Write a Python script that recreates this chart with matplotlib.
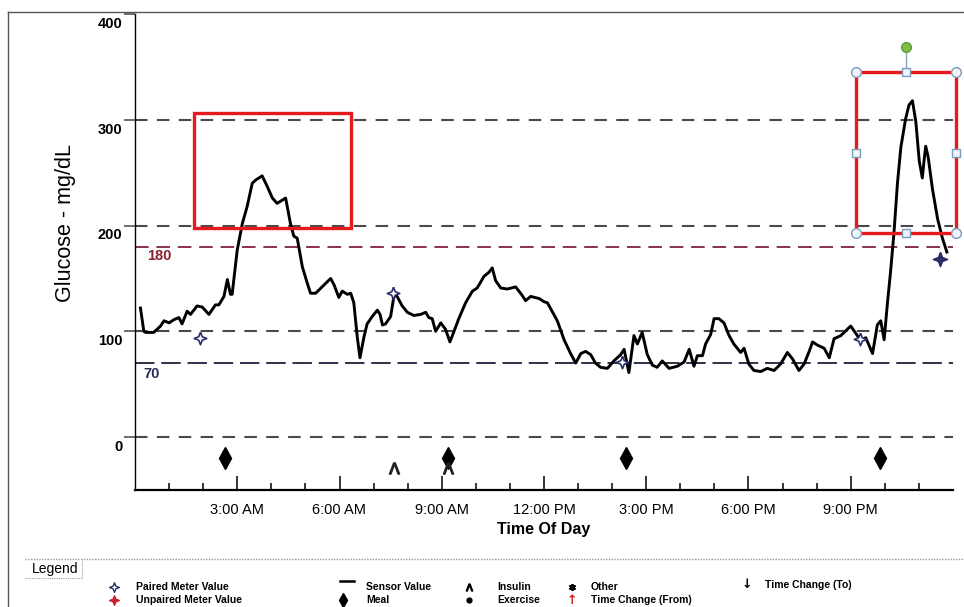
import matplotlib
matplotlib.use("Agg")
import matplotlib.pyplot as plt
import matplotlib.transforms as mtransforms
from matplotlib import font_manager
from matplotlib.lines import Line2D
from matplotlib.patches import Rectangle

# ---- data ----
# sensor trace: hours after midnight, glucose in mg/dL
sensor_hours = [0.16, 0.26, 0.31, 0.55, 0.75, 0.85, 1.00, 1.14, 1.29, 1.38, 1.53, 1.63,
                1.82, 1.97, 2.17, 2.36, 2.46, 2.61, 2.71, 2.80, 2.85, 3.00, 3.15, 3.29,
                3.44, 3.54, 3.73, 3.88, 4.03, 4.17, 4.32, 4.42, 4.56, 4.66, 4.76, 4.91,
                5.05, 5.15, 5.30, 5.49, 5.74, 5.84, 5.98, 6.08, 6.23, 6.33, 6.42, 6.52,
                6.60, 6.72, 6.81, 6.96, 7.11, 7.19, 7.26, 7.35, 7.50, 7.60, 7.69, 7.84,
                7.99, 8.18, 8.38, 8.53, 8.62, 8.72, 8.82, 8.97, 9.11, 9.24, 9.36, 9.50,
                9.70, 9.90, 10.04, 10.24, 10.39, 10.48, 10.58, 10.73, 10.92, 11.17, 11.36,
                11.46, 11.61, 11.86, 12.00, 12.10, 12.39, 12.59, 12.78, 12.93, 13.08,
                13.22, 13.37, 13.51, 13.66, 13.86, 14.05, 14.25, 14.35, 14.49, 14.64,
                14.74, 14.88, 15.03, 15.18, 15.32, 15.47, 15.67, 15.91, 16.11, 16.26,
                16.40, 16.50, 16.65, 16.74, 16.89, 16.99, 17.13, 17.28, 17.43, 17.57,
                17.77, 17.87, 18.01, 18.16, 18.36, 18.55, 18.75, 18.94, 19.14, 19.29,
                19.48, 19.63, 19.78, 19.88, 20.02, 20.22, 20.37, 20.51, 20.71, 20.90,
                21.00, 21.15, 21.30, 21.44, 21.64, 21.78, 21.88, 21.98, 22.08, 22.17,
                22.27, 22.37, 22.47, 22.61, 22.71, 22.81, 22.91, 23.01, 23.10, 23.15,
                23.20, 23.27, 23.40, 23.55, 23.69, 23.82]
sensor_values = [122, 100, 99, 99, 105, 110, 108, 111, 113, 107, 119, 116,
                 124, 123, 116, 125, 125, 133, 149, 135, 135, 177, 202, 218,
                 240, 243, 247, 237, 226, 221, 224, 226, 202, 190, 188, 161,
                 146, 136, 136, 142, 150, 144, 132, 138, 135, 136, 127, 95,
                 75, 95, 107, 114, 120, 116, 106, 107, 114, 134, 133, 124,
                 118, 115, 116, 118, 113, 112, 100, 108, 102, 90, 100, 112,
                 127, 138, 141, 152, 156, 160, 148, 141, 140, 142, 134,
                 129, 133, 131, 128, 127, 110, 92, 79, 70, 79,
                 81, 78, 70, 66, 65, 72, 78, 83, 61, 96,
                 88, 99, 78, 68, 66, 72, 65, 67, 71, 83,
                 67, 77, 77, 88, 97, 112, 112, 108, 96, 88,
                 80, 84, 69, 63, 62, 65, 63, 69, 80, 74,
                 63, 69, 81, 90, 87, 84, 75, 93, 96, 102,
                 105, 98, 91, 94, 79, 106, 110, 92, 128, 157,
                 194, 240, 274, 301, 314, 318, 298, 261, 245, 261,
                 275, 265, 234, 206, 188, 175]

meter_hours = [1.92, 7.57, 14.30, 21.27, 23.62]
meter_values = [94, 136, 71, 93, 168]

meal_hours = [2.64, 9.19, 14.41, 21.86]
meal_level = -20
insulin_hours = [7.60, 9.19]
insulin_level = -29

grid_levels = [0, 100, 200, 300]
low_limit = 70
high_limit = 180

y_ticks = [0, 100, 200, 300, 400]
hour_ticks = list(range(1, 24))
label_hours = [3, 6, 9, 12, 15, 18, 21]
label_texts = ["3:00 AM", "6:00 AM", "9:00 AM", "12:00 PM", "3:00 PM", "6:00 PM", "9:00 PM"]

# red highlight boxes (x0, y0, x1, y1) in hours / mg/dL
highlight_boxes = [(1.72, 198, 6.35, 306), (21.15, 193, 24.08, 345)]

# ---- fonts ----
names = {f.name for f in font_manager.fontManager.ttflist}
NARROW = "Liberation Sans Narrow" if "Liberation Sans Narrow" in names else "Liberation Sans"
REG = "Liberation Sans"

W, H = 964, 607
fig = plt.figure(figsize=(W / 100, H / 100), dpi=100)
fig.patch.set_facecolor("white")


def fx(x):
    return x / W


def fy(y):
    return 1 - y / H


ax = fig.add_axes([fx(135), fy(490), (953 - 135) / W, 476 / H])
ax.set_xlim(0, 24)
ax.set_ylim(-50, 400)
ax.set_facecolor("none")

for s in ["top", "right"]:
    ax.spines[s].set_visible(False)
ax.spines["left"].set_linewidth(1.0)
ax.spines["bottom"].set_linewidth(1.6)

# reference lines
for lv in grid_levels:
    ax.axhline(lv, color="#4a4a4a", lw=1.5, ls=(0, (6, 4.5)), zorder=1)
ax.axhline(high_limit, color="#8a3050", lw=1.4, ls=(0, (7, 4)), zorder=1)
ax.axhline(low_limit, color="#30304a", lw=1.4, ls=(0, (10, 3.5)), zorder=1)
ax.text(0.35, high_limit - 2, str(high_limit), color="#8a2030", fontsize=10.5,
        fontweight="bold", family=NARROW, va="top", ha="left")
ax.text(0.25, low_limit - 4, str(low_limit), color="#2a2a55", fontsize=10.5,
        fontweight="bold", family=NARROW, va="top", ha="left")

# sensor curve
ax.plot(sensor_hours, sensor_values, color="black", lw=2.1, zorder=4,
        solid_joinstyle="round")

# paired meter values (open 4-point star)
star = [(0, 1), (0.28, 0.28), (1, 0), (0.28, -0.28), (0, -1), (-0.28, -0.28),
        (-1, 0), (-0.28, 0.28), (0, 1)]
ax.plot(meter_hours[:-1], meter_values[:-1], ls="none", marker=star, ms=9,
        mfc="white", mec="#2a2f6a", mew=1.2, zorder=5)
ax.plot(meter_hours[-1:], meter_values[-1:], ls="none", marker=star, ms=10,
        mfc="#2a2f6a", mec="#2a2f6a", mew=1.2, zorder=5)

# meals and insulin
ax.plot(meal_hours, [meal_level] * len(meal_hours), ls="none", marker="d",
        ms=11, color="black", zorder=5)
ax.plot(insulin_hours, [insulin_level] * len(insulin_hours), ls="none",
        marker=r"$\Lambda$", ms=8, color="#222222", zorder=5)

# highlight boxes with selection handles on the second one
for x0, y0, x1, y1 in highlight_boxes:
    ax.add_patch(Rectangle((x0, y0), x1 - x0, y1 - y0, fill=False, ec="#e5191e",
                           lw=2.4, zorder=6, clip_on=False))
x0, y0, x1, y1 = highlight_boxes[1]
xm, ym = (x0 + x1) / 2, (y0 + y1) / 2
ax.plot([xm, xm], [y1, y1 + 22], color="#8aa4bc", lw=1, zorder=6, clip_on=False)
ax.plot([x0, x1, x0, x1], [y0, y0, y1, y1], ls="none", marker="o", ms=7,
        mfc="#eef4fa", mec="#7c9cbc", mew=1, zorder=7, clip_on=False)
ax.plot([xm, xm, x0, x1], [y0, y1, ym, ym], ls="none", marker="s", ms=5.5,
        mfc="#eef4fa", mec="#7c9cbc", mew=1, zorder=7, clip_on=False)
ax.plot([xm], [y1 + 24], ls="none", marker="o", ms=7, mfc="#7cc242",
        mec="#5e9a3a", mew=1, zorder=7, clip_on=False)

# axes ticks
ax.set_yticks(y_ticks)
ax.set_yticklabels([str(v) for v in y_ticks])
ax.tick_params(axis="y", direction="out", length=8, width=1.2, color="#555555",
               pad=1, labelsize=10.5)
off = mtransforms.ScaledTranslation(0, -2 / 72, fig.dpi_scale_trans)
for lab in ax.get_yticklabels():
    lab.set_fontweight("bold")
    lab.set_family(NARROW)
    lab.set_va("top")
    lab.set_transform(lab.get_transform() + off)

ax.set_xticks(label_hours)
ax.set_xticklabels(label_texts)
ax.set_xticks([h for h in hour_ticks if h not in label_hours], minor=True)
ax.tick_params(axis="x", which="major", direction="in", length=10, width=1.1,
               pad=9, labelsize=10.5)
ax.tick_params(axis="x", which="minor", direction="in", length=5, width=1.1)
for lab in ax.get_xticklabels():
    lab.set_family(NARROW)

ax.set_xlabel("Time Of Day", fontsize=11.5, fontweight="bold", family=NARROW,
              labelpad=4)
ax.set_ylabel("Glucose - mg/dL", fontsize=15.5, family=REG)
ax.yaxis.set_label_coords(-0.072, 0.56)

# page frame
fig.add_artist(Line2D([fx(8), 1], [fy(12), fy(12)], color="#555555", lw=1,
                      transform=fig.transFigure))
fig.add_artist(Line2D([fx(8), fx(8)], [fy(12), 0], color="#555555", lw=1,
                      transform=fig.transFigure))

# legend strip
fig.add_artist(Line2D([fx(25), 1], [fy(559), fy(559)], color="#9a9aaa", lw=1,
                      ls=(0, (1, 1)), transform=fig.transFigure))
fig.add_artist(Line2D([fx(25), fx(82), fx(82)], [fy(578), fy(578), fy(559)],
                      color="#9a9aaa", lw=0.8, ls=(0, (1, 1)),
                      transform=fig.transFigure))
fig.text(fx(32), fy(569), "Legend", fontsize=10, family=REG, va="center")

r1, r2 = 587, 600
lg = dict(fontsize=7.5, fontweight="bold", family=NARROW, va="center")
fig.add_artist(Line2D([fx(114)], [fy(r1)], marker=star, ms=7, mfc="white",
                      mec="#2a2f6a", mew=1, transform=fig.transFigure))
fig.text(fx(136), fy(r1), "Paired Meter Value", **lg)
fig.add_artist(Line2D([fx(114)], [fy(r2)], marker=star, ms=7, mfc="#d0202a",
                      mec="#d0202a", transform=fig.transFigure))
fig.text(fx(136), fy(r2), "Unpaired Meter Value", **lg)

fig.add_artist(Line2D([fx(340), fx(354)], [fy(r1 - 6), fy(r1 - 6)], color="black",
                      lw=1.8, transform=fig.transFigure))
fig.text(fx(366), fy(r1), "Sensor Value", **lg)
fig.add_artist(Line2D([fx(343)], [fy(r2)], marker="d", ms=7, color="black",
                      transform=fig.transFigure))
fig.text(fx(366), fy(r2), "Meal", **lg)

fig.add_artist(Line2D([fx(469)], [fy(r1)], marker=r"$\Lambda$", ms=5,
                      color="black", transform=fig.transFigure))
fig.text(fx(497), fy(r1), "Insulin", **lg)
fig.add_artist(Line2D([fx(469)], [fy(r2)], marker="o", ms=3.5, color="black",
                      transform=fig.transFigure))
fig.text(fx(497), fy(r2), "Exercise", **lg)

fig.add_artist(Line2D([fx(572)], [fy(r1)], marker=(6, 2, 0), ms=5, mew=1.3,
                      color="black", transform=fig.transFigure))
fig.text(fx(591), fy(r1), "Other", **lg)
fig.text(fx(572), fy(r2), "\u2191", color="#d0202a", fontsize=9, fontweight="bold",
         ha="center", va="center", family="DejaVu Sans")
fig.text(fx(591), fy(r2), "Time Change (From)", **lg)
fig.text(fx(747), fy(r1 - 2), "\u2193", color="black", fontsize=9, fontweight="bold",
         ha="center", va="center", family="DejaVu Sans")
fig.text(fx(765), fy(r1 - 2), "Time Change (To)", **lg)

fig.savefig("out.png", dpi=100)
